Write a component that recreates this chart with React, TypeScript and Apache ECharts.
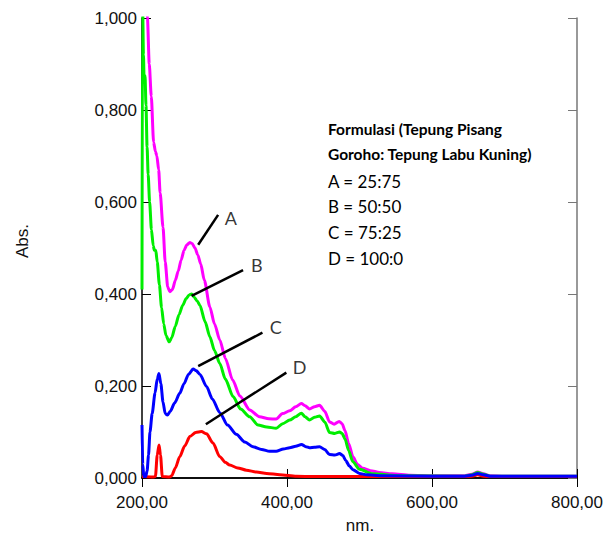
import React, { useEffect, useRef } from "react";
import * as echarts from "echarts";

// Wavelength (nm) vs absorbance
const curveA: [number, number][] = [
  [200, 1.6], [204, 1.3], [207.5, 1.0], [210, 0.9], [212.8, 0.83], [216, 0.73], [218.5, 0.71],
  [220.5, 0.7], [223, 0.67], [225, 0.62], [229, 0.545], [232, 0.47], [235.5, 0.415], [238.5, 0.405],
  [242, 0.41], [246, 0.43], [250, 0.45], [254, 0.474], [258, 0.495], [262, 0.507], [266, 0.512],
  [269, 0.51], [273, 0.5], [277, 0.485], [281, 0.465], [286, 0.43], [293.6, 0.372], [300, 0.335],
  [307.3, 0.3], [315, 0.26], [325, 0.213], [335, 0.178], [348.6, 0.148], [362, 0.133], [375, 0.129],
  [385, 0.128], [394, 0.14], [403.7, 0.146], [412, 0.155], [419.8, 0.162], [425, 0.157], [431.2, 0.15],
  [438, 0.155], [445, 0.158], [452, 0.145], [458.7, 0.122], [465, 0.117], [472, 0.123], [476, 0.118],
  [480, 0.103], [485, 0.075], [491, 0.046], [497, 0.03], [504.5, 0.021], [515, 0.016], [527.5, 0.012],
  [545, 0.009], [570, 0.006], [600, 0.005], [645, 0.005], [655, 0.008], [663, 0.013], [671, 0.009],
  [680, 0.005], [700, 0.004], [800, 0.004],
];

const curveB: [number, number][] = [
  [200, 0.41], [200.7, 1.05], [202, 0.92], [203, 0.86], [204.2, 0.875], [205.5, 0.81], [207, 0.72],
  [208.5, 0.66], [210.5, 0.6], [213, 0.54], [215.5, 0.505], [217, 0.495], [219, 0.495], [221, 0.47],
  [224, 0.42], [227, 0.37], [230, 0.335], [233, 0.31], [237.5, 0.296], [241, 0.305], [246, 0.33],
  [251, 0.355], [256, 0.375], [261, 0.39], [265, 0.398], [268.5, 0.4], [272, 0.393], [276, 0.385],
  [280, 0.375], [287, 0.34], [293.6, 0.307], [300, 0.277], [307.3, 0.249], [315, 0.215], [325.6, 0.177],
  [336, 0.15], [348.6, 0.133], [360, 0.115], [372, 0.111], [385, 0.108], [394, 0.118], [403.7, 0.126],
  [412, 0.133], [419.8, 0.141], [425, 0.133], [431, 0.126], [438, 0.132], [445, 0.135], [452, 0.122],
  [458.7, 0.099], [466, 0.097], [472.5, 0.1], [476, 0.097], [480, 0.085], [485, 0.06], [490.5, 0.036],
  [500, 0.019], [518, 0.009], [555, 0.005], [645, 0.004], [655, 0.007], [663, 0.012], [671, 0.008],
  [680, 0.004], [800, 0.004],
];

const curveC: [number, number][] = [
  [200, 0.115], [201, 0.03], [202.5, 0.003], [205, 0.003], [207, 0.015], [209, 0.05], [211, 0.1],
  [214, 0.14], [218, 0.185], [221, 0.215], [223.4, 0.227], [226, 0.205], [229, 0.165], [232, 0.14],
  [235, 0.137], [239, 0.145], [245, 0.163], [252, 0.184], [258, 0.205], [264, 0.225], [270.6, 0.237],
  [275, 0.233], [280, 0.225], [289, 0.199], [297, 0.172], [307.3, 0.142], [318, 0.115], [330, 0.095],
  [342, 0.078], [353, 0.068], [365, 0.062], [376, 0.058], [385, 0.058], [395, 0.063], [403.7, 0.066],
  [412, 0.069], [420, 0.073], [426, 0.068], [431, 0.066], [438, 0.067], [445, 0.068], [452, 0.062],
  [458.7, 0.051], [466, 0.05], [472.5, 0.053], [477, 0.049], [481, 0.038], [486, 0.026], [491, 0.018],
  [500, 0.01], [510, 0.007], [530, 0.005], [600, 0.004], [645, 0.004], [655, 0.006], [663, 0.01],
  [671, 0.007], [680, 0.004], [800, 0.004],
];

const curveD: [number, number][] = [
  [200, 0.003], [215, 0.002], [218.5, 0.003], [221, 0.05], [223.5, 0.072], [225.5, 0.05], [228, 0.003],
  [238, 0.002], [241, 0.005], [246, 0.022], [252, 0.046], [259, 0.07], [266, 0.09], [274, 0.099],
  [282, 0.101], [289, 0.096], [298, 0.076], [307, 0.047], [315, 0.034], [321, 0.028], [332, 0.022],
  [344, 0.017], [358, 0.013], [372, 0.01], [390, 0.007], [413, 0.004], [450, 0.003], [645, 0.003],
  [655, 0.004], [663, 0.007], [671, 0.004], [680, 0.003], [800, 0.003],
];

const curveNames = ["A", "B", "C", "D"];
const curveColors = ["#ff00ff", "#00ee00", "#ff0000", "#0000ff"];

// leader lines and their letters (data coordinates)
const leaderStart: [number, number][] = [[277.5, 0.507], [268.4, 0.396], [277.5, 0.243], [288.1, 0.117]];
const leaderEnd: [number, number][] = [[305, 0.572], [339.4, 0.452], [366.1, 0.316], [399.1, 0.229]];
const letterPos: [number, number][] = [[322.5, 0.565], [358.3, 0.463], [384.4, 0.329], [417.4, 0.242]];

const legendTitle = ["Formulasi (Tepung Pisang", "Goroho: Tepung Labu Kuning)"];
const legendItems = ["A = 25:75", "B = 50:50", "C = 75:25", "D = 100:0"];

const xMin = 200, xMax = 800, xStep = 200;
const yMin = 0, yMax = 1, yStep = 0.2;

export default function App() {
  const ref = useRef<HTMLDivElement>(null);
  useEffect(() => {
    if (!ref.current) return;
    const chart = echarts.init(ref.current, null, { renderer: "svg" });
    const axisFont = { fontFamily: "Liberation Sans", fontSize: 17, color: "#111" };
    const curves = [curveA, curveB, curveD, curveC];
    const names = ["A", "B", "D", "C"];
    const series: any[] = curves.map((c, i) => ({
      type: "line",
      name: names[i],
      data: c,
      showSymbol: false,
      symbol: "none",
      smooth: 0.25,
      smoothMonotone: "x",
      clip: true,
      lineStyle: { width: 3, color: curveColors[i] },
      z: 2 + i,
      silent: true,
    }));
    leaderStart.forEach((s, i) => {
      series.push({
        type: "line",
        data: [s, leaderEnd[i]],
        showSymbol: false,
        symbol: "none",
        lineStyle: { width: 2.5, color: "#000" },
        z: 10,
        silent: true,
      });
    });
    series.push({
      type: "scatter",
      data: letterPos.map((p, i) => [p[0], p[1], curveNames[i]]),
      symbolSize: 1,
      itemStyle: { color: "rgba(0,0,0,0)" },
      label: {
        show: true,
        position: "inside",
        formatter: (p: any) => p.value[2],
        fontFamily: "Lato",
        fontSize: 18,
        color: "#000",
      },
      z: 11,
      silent: true,
    });

    const graphics: any[] = [];
    legendTitle.forEach((t, i) => {
      graphics.push({
        type: "text",
        x: 328,
        y: 129 + i * 25,
        style: { text: t, font: "bold 15.5px Lato", fill: "#000", verticalAlign: "middle" },
      });
    });
    legendItems.forEach((t, i) => {
      graphics.push({
        type: "text",
        x: 328,
        y: 181 + i * 25.7,
        style: { text: t, font: "17px Lato", fill: "#000", verticalAlign: "middle" },
      });
    });
    graphics.push({
      type: "text",
      x: 22,
      y: 241,
      rotation: Math.PI / 2,
      style: { text: "Abs.", font: "17px 'Liberation Sans'", fill: "#111", align: "center", verticalAlign: "middle" },
    });
    graphics.push({
      type: "text",
      x: 360,
      y: 525,
      style: { text: "nm.", font: "17px 'Liberation Sans'", fill: "#111", align: "center", verticalAlign: "middle" },
    });

    chart.setOption({
      animation: false,
      backgroundColor: "#fff",
      grid: { left: 142, right: 28, top: 18, bottom: 57, containLabel: false },
      xAxis: [
        {
          type: "value",
          position: "bottom",
          min: xMin,
          max: xMax,
          interval: xStep,
          axisLine: { show: true, lineStyle: { color: "#000", width: 1.5 } },
          axisTick: { show: true, inside: true, length: 9, lineStyle: { color: "#000" } },
          axisLabel: { ...axisFont, margin: 16, formatter: (v: number) => v.toFixed(2).replace(".", ",") },
          splitLine: { show: false },
        },
        {
          type: "value",
          position: "top",
          min: xMin,
          max: xMax,
          interval: xStep,
          axisLine: { show: true, lineStyle: { color: "#000", width: 1.5 } },
          axisTick: { show: true, inside: true, length: 9, lineStyle: { color: "#000" } },
          axisLabel: { show: false },
          splitLine: { show: false },
        },
      ],
      yAxis: [
        {
          type: "value",
          position: "left",
          min: yMin,
          max: yMax,
          interval: yStep,
          axisLine: { show: true, lineStyle: { color: "#000", width: 1.5 } },
          axisTick: { show: true, inside: true, length: 9, lineStyle: { color: "#000" } },
          axisLabel: { ...axisFont, margin: 5, formatter: (v: number) => v.toFixed(3).replace(".", ",") },
          splitLine: { show: false },
        },
        {
          type: "value",
          position: "right",
          min: yMin,
          max: yMax,
          interval: yStep,
          axisLine: { show: true, lineStyle: { color: "#777", width: 1.5 } },
          axisTick: { show: true, inside: true, length: 9, lineStyle: { color: "#777" } },
          axisLabel: { show: false },
          splitLine: { show: false },
        },
      ],
      series,
      graphic: graphics,
    });
    return () => chart.dispose();
  }, []);
  return <div ref={ref} style={{ position: "absolute", left: 0, top: 0, width: 606, height: 535 }} />;
}
